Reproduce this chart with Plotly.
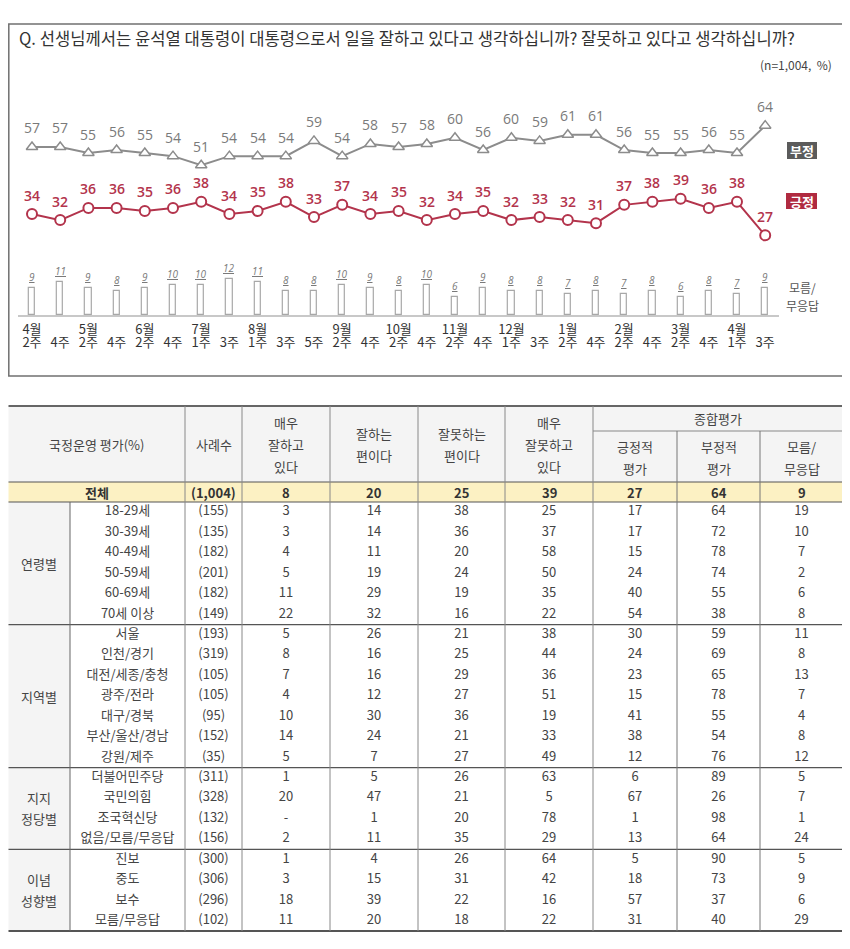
import plotly.graph_objects as go

# The page body has an 8px margin: figure coordinates are page pixels minus 8.
OFF = 8
W, H = 842, 933
PAGE_W, PAGE_H = OFF + W, OFF + H

# ---------------- data: trend chart ----------------
months = ["4월", "", "5월", "", "6월", "", "7월", "", "8월", "", "", "9월", "", "10월", "",
          "11월", "", "12월", "", "1월", "", "2월", "", "3월", "", "4월", ""]
weeks = ["2주", "4주", "2주", "4주", "2주", "4주", "1주", "3주", "1주", "3주", "5주", "2주", "4주", "2주",
         "4주", "2주", "4주", "1주", "3주", "2주", "4주", "2주", "4주", "2주", "4주", "1주", "3주"]
negative = [57, 57, 55, 56, 55, 54, 51, 54, 54, 54, 59, 54, 58, 57, 58, 60, 56, 60, 59, 61, 61,
            56, 55, 55, 56, 55, 64]
positive = [34, 32, 36, 36, 35, 36, 38, 34, 35, 38, 33, 37, 34, 35, 32, 34, 35, 32, 33, 32, 31,
            37, 38, 39, 36, 38, 27]
dont_know = [9, 11, 9, 8, 9, 10, 10, 12, 11, 8, 8, 10, 9, 8, 10, 6, 9, 8, 8, 7, 8, 7, 8, 6, 8, 7, 9]

# ---------------- data: table ----------------
groups = ["연령별", "지역별", "지지<br>정당별", "이념<br>성향별"]
group_sizes = [6, 7, 4, 4]
row_labels = ["18-29세", "30-39세", "40-49세", "50-59세", "60-69세", "70세 이상",
              "서울", "인천/경기", "대전/세종/충청", "광주/전라", "대구/경북", "부산/울산/경남", "강원/제주",
              "더불어민주당", "국민의힘", "조국혁신당", "없음/모름/무응답",
              "진보", "중도", "보수", "모름/무응답"]
sample_n = ["(155)", "(135)", "(182)", "(201)", "(182)", "(149)",
            "(193)", "(319)", "(105)", "(105)", "(95)", "(152)", "(35)",
            "(311)", "(328)", "(132)", "(156)",
            "(300)", "(306)", "(296)", "(102)"]
very_good = [3, 3, 4, 5, 11, 22, 5, 8, 7, 4, 10, 14, 5, 1, 20, "-", 2, 1, 3, 18, 11]
good = [14, 14, 11, 19, 29, 32, 26, 16, 16, 12, 30, 24, 7, 5, 47, 1, 11, 4, 15, 39, 20]
bad = [38, 36, 20, 24, 19, 16, 21, 25, 29, 27, 36, 21, 27, 26, 21, 20, 35, 26, 31, 22, 18]
very_bad = [25, 37, 58, 50, 35, 22, 38, 44, 36, 51, 19, 33, 49, 63, 5, 78, 29, 64, 42, 16, 22]
pos_eval = [17, 17, 15, 24, 40, 54, 30, 24, 23, 15, 41, 38, 12, 6, 67, 1, 13, 5, 18, 57, 31]
neg_eval = [64, 72, 78, 74, 55, 38, 59, 69, 65, 78, 55, 54, 76, 89, 26, 98, 64, 90, 73, 37, 40]
dk_eval = [19, 10, 7, 2, 6, 8, 11, 8, 13, 7, 4, 8, 12, 5, 7, 1, 24, 5, 9, 6, 29]
total_row = ["(1,004)", 8, 20, 25, 39, 27, 64, 9]
headers = ["사례수", "매우<br>잘하고<br>있다", "잘하는<br>편이다", "잘못하는<br>편이다",
           "매우<br>잘못하고<br>있다", "긍정적<br>평가", "부정적<br>평가", "모름/<br>무응답"]

# ---------------- layout constants ----------------
KR = "Noto Sans CJK KR"
NUM = "Open Sans"
GRAY_LINE = "#8c8c8c"
RED = "#b3344c"
TXT = "#444444"


def xdom(left, right):
    return [(left - OFF) / W, (right - OFF) / W]


def ydom(top, bottom):
    return [1 - (bottom - OFF) / H, 1 - (top - OFF) / H]


idx = list(range(len(weeks)))
fig = go.Figure()

fig.add_trace(go.Scatter(x=idx, y=negative, mode="lines+markers", xaxis="x", yaxis="y",
                         line=dict(color=GRAY_LINE, width=2),
                         marker=dict(symbol="triangle-up", size=10, color="white",
                                     line=dict(color=GRAY_LINE, width=1.5)),
                         showlegend=False, hoverinfo="skip"))
fig.add_trace(go.Scatter(x=idx, y=positive, mode="lines+markers", xaxis="x", yaxis="y2",
                         line=dict(color=RED, width=2),
                         marker=dict(symbol="circle", size=10, color="white",
                                     line=dict(color=RED, width=2)),
                         showlegend=False, hoverinfo="skip"))
fig.add_trace(go.Bar(x=idx, y=dont_know, xaxis="x", yaxis="y3", width=0.22,
                     marker=dict(color="white", line=dict(color="#a8a8a8", width=1.2)),
                     showlegend=False, hoverinfo="skip"))
fig.add_trace(go.Scatter(x=idx, y=[None] * len(idx), xaxis="x5", yaxis="y3", mode="lines",
                         showlegend=False, hoverinfo="skip"))

annotations = []
for i, v in enumerate(negative):
    annotations.append(dict(x=i, y=v, xref="x", yref="y", text=str(v), showarrow=False,
                            yshift=19, font=dict(family=NUM, size=14, color="#7a7a7a")))
for i, v in enumerate(positive):
    annotations.append(dict(x=i, y=v, xref="x", yref="y2", text=str(v), showarrow=False,
                            yshift=19, font=dict(family=NUM, size=14, color=RED, weight=600)))
for i, v in enumerate(dont_know):
    annotations.append(dict(x=i, y=v, xref="x", yref="y3", text="<i><u>%d</u></i>" % v,
                            showarrow=False, yshift=11,
                            font=dict(family=NUM, size=10, color="#7a7a7a")))

shapes = []


def canvas_rect(x0, y0, x1, y1, fill=None, line=None, lw=0, layer="below"):
    shapes.append(dict(type="rect", xref="x4", yref="y4", x0=x0, y0=y0, x1=x1, y1=y1,
                       fillcolor=fill if fill else "rgba(0,0,0,0)",
                       line=dict(color=line if line else "rgba(0,0,0,0)", width=lw), layer=layer))


def canvas_line(x0, y0, x1, y1, color="#888888", lw=1):
    shapes.append(dict(type="line", xref="x4", yref="y4", x0=x0, y0=y0, x1=x1, y1=y1,
                       line=dict(color=color, width=lw), layer="above"))


def canvas_text(x, y, text, size=13, color=TXT, family=KR, xanchor="center", bold=False):
    annotations.append(dict(x=x, y=y, xref="x4", yref="y4", text=text, showarrow=False,
                            xanchor=xanchor, yanchor="middle",
                            font=dict(family=family, size=size, color=color,
                                      weight=700 if bold else 400)))


def canvas_multiline(x, yc, text, spacing, size=13, color=TXT):
    lines = text.split("<br>")
    n = len(lines)
    for j, ln in enumerate(lines):
        canvas_text(x, yc + (j - (n - 1) / 2) * spacing, ln, size=size, color=color)


# ----- top panel frame and texts -----
canvas_rect(8.8, 24, 844, 376, line="#707070", lw=1.5)
canvas_text(17, 38, "Q. 선생님께서는 윤석열 대통령이 대통령으로서 일을 잘하고 있다고 생각하십니까? 잘못하고 있다고 생각하십니까?",
            size=16.6, color="#333333", xanchor="left")
canvas_text(834, 64, "(n=1,004,  %)", size=12, color="#444444", xanchor="right")
canvas_rect(787, 142, 817, 159, fill="#5b5b5b")
canvas_text(802, 150.5, "부정", size=13, color="white", bold=True)
canvas_rect(786, 193, 817, 209, fill="#b02a40")
canvas_text(801.5, 201, "긍정", size=13, color="white", bold=True)
canvas_multiline(802, 296, "모름/<br>무응답", 18, size=12, color="#555555")

# ----- table geometry -----
T_TOP, H_MID, H_BOT, TOT_BOT, T_BOT = 406, 431, 482, 502, 931
col_edges = [8.5, 70, 185, 242, 330, 418, 505, 593, 677, 760, 843]
n_rows = len(row_labels)
row_h = (T_BOT - TOT_BOT) / n_rows
row_centers = [TOT_BOT + row_h * (i + 0.5) for i in range(n_rows)]
data_cols = [sample_n, very_good, good, bad, very_bad, pos_eval, neg_eval, dk_eval]
col_centers = [(col_edges[k] + col_edges[k + 1]) / 2 for k in range(2, 10)]
L, R = col_edges[0], col_edges[-1]

canvas_rect(L, T_TOP, R, H_BOT, fill="#f4f4f4")
canvas_rect(L, TOT_BOT, col_edges[1], T_BOT, fill="#f4f4f4")
canvas_rect(L, H_BOT, R, TOT_BOT, fill="#fcf1c3")

canvas_text((col_edges[0] + col_edges[2]) / 2, 444, "국정운영 평가(%)", size=13)
for k, htxt in enumerate(headers):
    yc = 444 if k < 5 else 457
    canvas_multiline(col_centers[k], yc, htxt, 22, size=13)
canvas_text((col_edges[7] + col_edges[10]) / 2, 418, "종합평가", size=13)

canvas_text((col_edges[0] + col_edges[2]) / 2, (H_BOT + TOT_BOT) / 2, "전체", size=13,
            color="#333333", bold=True)
for k, v in enumerate(total_row):
    canvas_text(col_centers[k], (H_BOT + TOT_BOT) / 2, str(v), size=13, color="#333333", bold=True)

start = 0
sep_rows = []
for g, n in zip(groups, group_sizes):
    yc = TOT_BOT + row_h * (start + n / 2)
    canvas_multiline((col_edges[0] + col_edges[1]) / 2, yc, g, 21, size=13)
    start += n
    sep_rows.append(start)

fig.add_trace(go.Scatter(x=[(col_edges[1] + col_edges[2]) / 2] * n_rows, y=row_centers,
                         text=row_labels, mode="text", xaxis="x4", yaxis="y4",
                         textfont=dict(family=KR, size=13, color=TXT),
                         showlegend=False, hoverinfo="skip", cliponaxis=False))
for k, col in enumerate(data_cols):
    fig.add_trace(go.Scatter(x=[col_centers[k]] * n_rows, y=row_centers,
                             text=[str(v) for v in col], mode="text", xaxis="x4", yaxis="y4",
                             textfont=dict(family=KR, size=13, color=TXT),
                             showlegend=False, hoverinfo="skip", cliponaxis=False))

canvas_line(L, T_TOP, R, T_TOP, color="#666666", lw=2)
canvas_line(col_edges[7], H_MID, R, H_MID, color="#888888", lw=1)
canvas_line(L, H_BOT, R, H_BOT, color="#555555", lw=1.2)
canvas_line(L, TOT_BOT, R, TOT_BOT, color="#555555", lw=1.2)
for r in sep_rows[:-1]:
    yy = TOT_BOT + row_h * r
    canvas_line(L, yy, R, yy, color="#555555", lw=1.2)
canvas_line(L, T_BOT, R, T_BOT, color="#555555", lw=2)
canvas_line(col_edges[1], TOT_BOT, col_edges[1], T_BOT, color="#666666", lw=1)
for k in range(2, 8):
    canvas_line(col_edges[k], T_TOP, col_edges[k], T_BOT, color="#888888", lw=1)
for k in range(8, 10):
    canvas_line(col_edges[k], H_MID, col_edges[k], T_BOT, color="#777777", lw=1)

# ---------------- axes ----------------
fig.update_layout(
    width=W, height=H, margin=dict(l=0, r=0, t=0, b=0),
    paper_bgcolor="white", plot_bgcolor="rgba(0,0,0,0)",
    bargap=0,
    xaxis=dict(domain=xdom(17.9, 779.3), range=[-0.5, 26.5], anchor="y3",
               tickmode="array", tickvals=idx, ticktext=months, ticks="",
               tickfont=dict(family=KR, size=13, color="#333333"),
               showgrid=False, zeroline=False, showline=True, linecolor="#c8c8c8", linewidth=1.5,
               ticklabelstandoff=2, fixedrange=True),
    xaxis5=dict(overlaying="x", range=[-0.5, 26.5], anchor="y3", side="bottom",
                tickmode="array", tickvals=idx, ticktext=weeks, ticks="",
                tickfont=dict(family=KR, size=13, color="#333333"),
                showgrid=False, zeroline=False, showline=False, ticklabelstandoff=18,
                fixedrange=True),
    yaxis=dict(domain=ydom(100, 190), range=[42.9, 72.4], anchor="x", visible=False,
               fixedrange=True),
    yaxis2=dict(domain=ydom(170, 260), range=[18.92, 48.43], anchor="x", visible=False,
                fixedrange=True),
    yaxis3=dict(domain=ydom(270, 315), range=[0, 15], anchor="x", visible=False,
                fixedrange=True),
    xaxis4=dict(domain=[0, 1], range=[OFF, PAGE_W], anchor="y4", visible=False, fixedrange=True),
    yaxis4=dict(domain=[0, 1], range=[PAGE_H, OFF], anchor="x4", visible=False, fixedrange=True),
    shapes=shapes, annotations=annotations,
)

fig.write_html("out.html")
